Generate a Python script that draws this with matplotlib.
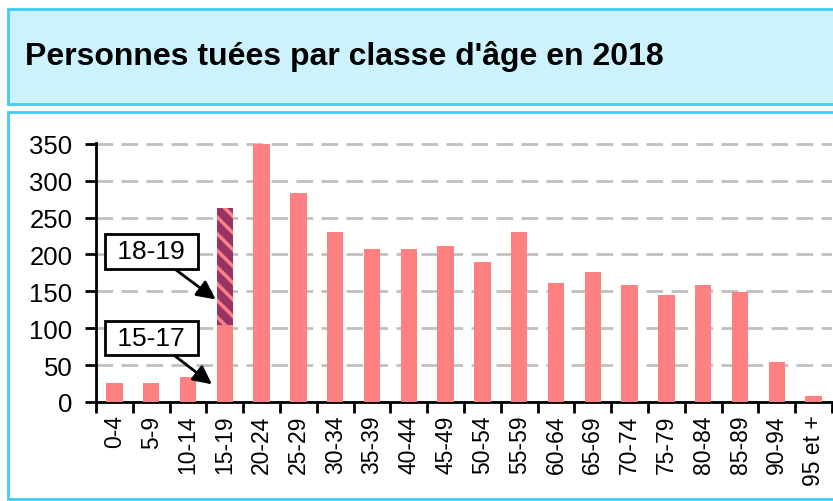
import matplotlib.pyplot as plt
from matplotlib.patches import Rectangle

plt.rcParams['font.family'] = ['Liberation Sans', 'DejaVu Sans']
plt.rcParams['hatch.linewidth'] = 2.5

categories = ['0-4', '5-9', '10-14', '15-19', '20-24', '25-29', '30-34', '35-39',
              '40-44', '45-49', '50-54', '55-59', '60-64', '65-69', '70-74',
              '75-79', '80-84', '85-89', '90-94', '95 et +']
tues = [26, 26, 34, 263, 350, 283, 231, 207, 207, 211, 190, 231, 161, 176,
        158, 145, 158, 149, 54, 8]
tues_15_17 = 105
tues_18_19 = 158

fig = plt.figure(figsize=(8.33, 5.02), dpi=100)

# cadres de fond
fig.patches.append(Rectangle((8 / 833, 1 - 105 / 502), 830 / 833, 95 / 502,
                             transform=fig.transFigure, facecolor='#ccf3fd',
                             edgecolor='#40cdf5', linewidth=2, zorder=0))
fig.patches.append(Rectangle((8 / 833, 1 - 500 / 502), 830 / 833, 387 / 502,
                             transform=fig.transFigure, facecolor='white',
                             edgecolor='#40cdf5', linewidth=2, zorder=0))
fig.text(25 / 833, 1 - 57 / 502, "Personnes tuées par classe d'âge en 2018",
         fontsize=23, fontweight='bold', va='center', ha='left')

ax = fig.add_axes([96 / 833, 1 - 403 / 502, 736 / 833, 259 / 502])
ax.set_facecolor('none')
ax.set_zorder(2)

x = list(range(len(categories)))
hauteurs = [0 if c == '15-19' else v for c, v in zip(categories, tues)]
ax.bar(x, hauteurs, width=0.45, color='#ff8080', zorder=3)
i = categories.index('15-19')
ax.bar(i, tues_15_17, width=0.45, color='#ff8080', zorder=3)
ax.bar(i, tues_18_19, bottom=tues_15_17, width=0.45, facecolor='#993366',
       edgecolor='#ff8080', linewidth=0, hatch='\\\\', zorder=3)

ax.set_xlim(-0.5, len(categories) - 0.5)
ax.set_ylim(0, 351)
ax.set_yticks(range(0, 351, 50))
ax.tick_params(axis='y', labelsize=18.5, width=2, length=8, pad=9)
ax.set_xticks([k - 0.5 for k in range(len(categories) + 1)])
ax.set_xticklabels([])
ax.set_xticks(x, minor=True)
ax.set_xticklabels(categories, minor=True, rotation=90, fontsize=16.5)
ax.tick_params(axis='x', which='major', width=2, length=8)
ax.tick_params(axis='x', which='minor', length=0, pad=9)

ax.grid(axis='y', color='#c0c0c0', linestyle=(0, (6, 3)), linewidth=2, zorder=0)
for s in ['top', 'right']:
    ax.spines[s].set_visible(False)
for s in ['left', 'bottom']:
    ax.spines[s].set_linewidth(2)

boite = dict(boxstyle='square,pad=0.2', fc='white', ec='black', lw=2)
fleche = dict(arrowstyle='-|>', lw=2, mutation_scale=28, color='black', shrinkA=0, shrinkB=0)
ax.annotate(' 18-19 ', xy=(2.75, 139), xytext=(1.0, 204), fontsize=19,
            ha='center', va='center', bbox=boite, arrowprops=fleche, zorder=5)
ax.annotate(' 15-17 ', xy=(2.65, 24), xytext=(1.0, 87), fontsize=19,
            ha='center', va='center', bbox=boite, arrowprops=fleche, zorder=5)

fig.savefig('out.png', dpi=100)
